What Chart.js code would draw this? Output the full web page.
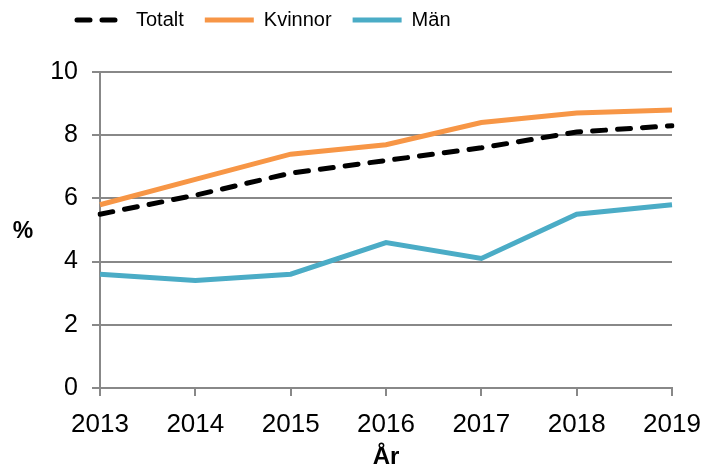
<!DOCTYPE html>
<html>
<head>
<meta charset="utf-8">
<script src="https://cdn.jsdelivr.net/npm/chart.js@4"></script>
<style>
  body { margin: 0; background: #fff; }
  #wrap { width: 706px; height: 469px; }
</style>
</head>
<body>
<div id="wrap"><canvas id="chart" width="706" height="469"></canvas></div>
<script>
var years = ["2013", "2014", "2015", "2016", "2017", "2018", "2019"];
var totalt = [5.5, 6.1, 6.8, 7.2, 7.6, 8.1, 8.3];
var kvinnor = [5.8, 6.6, 7.4, 7.7, 8.4, 8.7, 8.8];
var man = [3.6, 3.4, 3.6, 4.6, 4.1, 5.5, 5.8];

var font = "'Liberation Sans', Arial, sans-serif";

// "%" sits horizontal left of the y axis
var percentLabel = {
    id: 'percentLabel',
    afterDraw: function(chart) {
        var ctx = chart.ctx;
        var area = chart.chartArea;
        ctx.save();
        ctx.font = "bold 23px " + font;
        ctx.fillStyle = '#000';
        ctx.textAlign = 'center';
        ctx.textBaseline = 'middle';
        ctx.fillText('%', 23, (area.top + area.bottom) / 2 + 2);
        ctx.restore();
    }
};

// more room under the legend, legend nudged right
var legendGap = {
    id: 'legendGap',
    beforeUpdate: function(chart) {
        var legend = chart.legend;
        if (legend && !legend._gapDone) {
            var fit = legend.fit;
            legend.fit = function() {
                fit.call(this);
                this.height += 33;
            };
            var draw = legend.draw;
            legend.draw = function() {
                this.ctx.save();
                this.ctx.translate(6, 1);
                draw.apply(this, arguments);
                this.ctx.restore();
            };
            legend._gapDone = true;
        }
    }
};

var ctx = document.getElementById('chart');

var lineGraph = new Chart(ctx, {
    type: 'line',
    data: {
        labels: years,
        datasets: [
            {
                label: 'Totalt',
                data: totalt,
                borderColor: '#000000',
                backgroundColor: '#000000',
                borderWidth: 5,
                borderDash: [13, 12],
                borderCapStyle: 'round',
                pointRadius: 0,
                fill: false
            },
            {
                label: 'Kvinnor',
                data: kvinnor,
                borderColor: '#F79646',
                backgroundColor: '#F79646',
                borderWidth: 5,
                pointRadius: 0,
                fill: false
            },
            {
                label: 'Män',
                data: man,
                borderColor: '#4BACC6',
                backgroundColor: '#4BACC6',
                borderWidth: 5,
                pointRadius: 0,
                fill: false
            }
        ]
    },
    options: {
        responsive: false,
        animation: false,
        layout: { padding: { left: 50, right: 0, top: -12, bottom: 0 } },
        plugins: {
            legend: {
                position: 'top',
                align: 'start',
                labels: {
                    usePointStyle: true,
                    pointStyle: 'line',
                    pointStyleWidth: 49,
                    boxHeight: 20,
                    padding: 21,
                    color: '#000',
                    font: { family: font, size: 20 },
                    generateLabels: function(chart) {
                        var items = Chart.defaults.plugins.legend.labels.generateLabels(chart);
                        items.forEach(function(item) {
                            var ds = chart.data.datasets[item.datasetIndex];
                            item.lineDash = ds.borderDash || [];
                            item.lineCap = ds.borderCapStyle || 'butt';
                            item.lineWidth = 5;
                            item.strokeStyle = ds.borderColor;
                        });
                        return items;
                    }
                }
            },
            tooltip: { enabled: false }
        },
        scales: {
            x: {
                offset: false,
                afterFit: function(scale) {
                    scale.height = 81;
                    scale.paddingLeft = 0;
                    scale.paddingRight = 34;
                },
                grid: {
                    drawOnChartArea: false,
                    drawTicks: true,
                    tickLength: 8,
                    color: '#888',
                    lineWidth: 2
                },
                border: { color: '#888', width: 2 },
                ticks: {
                    color: '#000',
                    padding: 13,
                    maxRotation: 0,
                    font: { family: font, size: 26 }
                },
                title: {
                    display: true,
                    text: 'År',
                    color: '#000',
                    padding: { top: 0, bottom: -3 },
                    font: { family: font, size: 24, weight: 'bold' }
                }
            },
            y: {
                min: 0,
                max: 10,
                afterFit: function(scale) { scale.width = 50; },
                ticks: {
                    stepSize: 2,
                    color: '#000',
                    padding: 14,
                    font: { family: font, size: 25 }
                },
                grid: {
                    color: '#888',
                    lineWidth: 2,
                    tickLength: 8
                },
                border: { color: '#888', width: 2 }
            }
        }
    },
    plugins: [percentLabel, legendGap]
});
</script>
</body>
</html>
